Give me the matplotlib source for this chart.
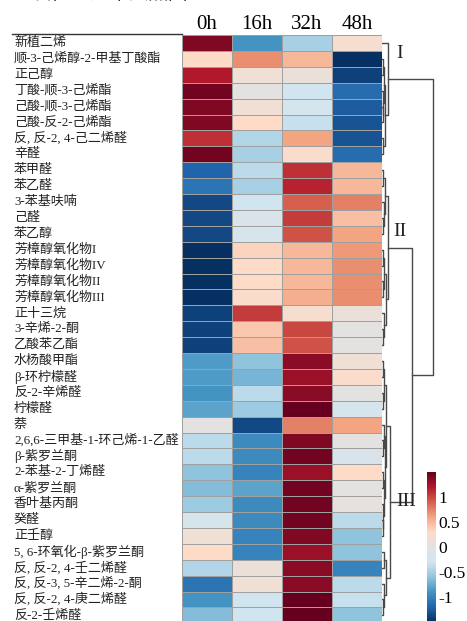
import matplotlib
matplotlib.use("Agg")
import matplotlib.pyplot as plt
from matplotlib.colors import LinearSegmentedColormap
from matplotlib.lines import Line2D
import numpy as np

# 行名（化合物）
compounds = [
    "新植二烯", "顺-3-己烯醇-2-甲基丁酸酯", "正己醇", "丁酸-顺-3-己烯酯",
    "己酸-顺-3-己烯酯", "己酸-反-2-己烯酯", "反, 反-2, 4-己二烯醛", "辛醛",
    "苯甲醛", "苯乙醛", "3-苯基呋喃", "己醛", "苯乙醇",
    "芳樟醇氧化物I", "芳樟醇氧化物IV", "芳樟醇氧化物II", "芳樟醇氧化物III",
    "正十三烷", "3-辛烯-2-酮", "乙酸苯乙酯", "水杨酸甲酯", "β-环柠檬醛",
    "反-2-辛烯醛", "柠檬醛", "萘", "2,6,6-三甲基-1-环己烯-1-乙醛",
    "β-紫罗兰酮", "2-苯基-2-丁烯醛", "α-紫罗兰酮", "香叶基丙酮", "癸醛",
    "正壬醇", "5, 6-环氧化-β-紫罗兰酮", "反, 反-2, 4-壬二烯醛",
    "反, 反-3, 5-辛二烯-2-酮", "反, 反-2, 4-庚二烯醛", "反-2-壬烯醛",
]
times = ["0h", "16h", "32h", "48h"]

# 各时间点的标准化值
v0h = [1.4, 0.3, 1.2, 1.45, 1.4, 1.4, 1.1, 1.45,
       -1.2, -1.1, -1.35, -1.35, -1.35,
       -1.5, -1.5, -1.5, -1.5, -1.4, -1.4, -1.4,
       -0.85, -0.85, -0.9, -0.8, 0.0, -0.4, -0.4, -0.6, -0.65, -0.55, -0.2,
       0.15, 0.3, -0.45, -1.1, -0.9, -0.65]
v16h = [-0.9, 0.7, 0.15, 0.0, 0.15, 0.3, -0.45, -0.5,
        -0.4, -0.5, -0.3, -0.15, -0.2,
        0.35, 0.3, 0.3, 0.25, 1.05, 0.4, 0.45,
        -0.6, -0.7, -0.4, -0.55, -1.35, -0.95, -0.95, -1.0, -0.8, -0.95, -0.95,
        -1.0, -1.0, 0.1, 0.15, -0.3, -0.3]
v32h = [-0.5, 0.5, 0.1, -0.3, -0.25, -0.35, 0.6, 0.25,
        1.1, 1.15, 0.9, 1.05, 0.95,
        0.5, 0.5, 0.5, 0.55, 0.2, 1.0, 0.95,
        1.35, 1.3, 1.35, 1.5, 0.75, 1.4, 1.45, 1.3, 1.45, 1.45, 1.45,
        1.4, 1.3, 1.35, 1.35, 1.5, 1.5]
v48h = [0.2, -1.5, -1.4, -1.15, -1.25, -1.3, -1.3, -1.15,
        0.5, 0.5, 0.75, 0.45, 0.6,
        0.65, 0.7, 0.7, 0.7, 0.1, 0.0, 0.0,
        0.15, 0.25, 0.0, -0.2, 0.6, 0.0, -0.15, 0.3, 0.0, 0.05, -0.4,
        -0.6, -0.6, -1.0, -0.4, -0.35, -0.6]

# 聚类树：(高度, 左, 右)，叶子为行号
tree_I = (0.12, 0, (0.06, (0.03, (0.015, 1, 2), (0.02, 3, (0.01, 4, 5))), (0.02, 6, 7)))
tree_II = (0.12, (0.05, (0.02, 8, 9), (0.03, 10, (0.015, 11, 12))),
           (0.07, (0.03, (0.01, 13, 14), (0.01, 15, 16)), (0.04, 17, (0.02, 18, 19))))
tree_III = (0.16, (0.08, (0.04, (0.02, 20, 21), (0.02, 22, 23)),
                   (0.06, (0.03, 24, (0.02, 25, 26)),
                    (0.04, (0.02, 27, 28), (0.02, 29, (0.01, 30, 31))))),
            (0.07, (0.03, 32, 33), (0.04, 34, (0.02, 35, 36))))
tree = (1.0, tree_I, (0.59, tree_II, tree_III))
cluster_names = ["I", "II", "III"]

data = np.array([v0h, v16h, v32h, v48h]).T
n = len(compounds)

cmap = LinearSegmentedColormap.from_list("rdbu_gray", [
    "#053061", "#2166ac", "#4393c3", "#92c5de", "#d1e5f0", "#e2e2e2",
    "#fddbc7", "#f4a582", "#d6604d", "#b2182b", "#67001f"])

W, H = 467, 621
fig = plt.figure(figsize=(W / 100, H / 100), dpi=100)
serif = ["Liberation Serif", "Noto Sans CJK SC"]
cjk = ["Liberation Serif", "Noto Sans CJK SC"]

top_px, row_h = 35, 15.9
bot_px = top_px + n * row_h
ax = fig.add_axes([182 / W, 1 - bot_px / H, 200 / W, n * row_h / H])
mesh = ax.pcolormesh(data, cmap=cmap, vmin=-1.5, vmax=1.5,
                     edgecolors="#a0a0a0", linewidth=0.7)
ax.set_xlim(0, 4)
ax.set_ylim(n, 0)
ax.set_xticks(np.arange(4) + 0.5)
ax.set_xticklabels(times, family=serif, fontsize=15)
ax.xaxis.tick_top()
ax.tick_params(length=0, pad=1)
ax.set_yticks([])
for s in ax.spines.values():
    s.set_visible(False)

# 行标签左对齐
for i, name in enumerate(compounds):
    y = 1 - (top_px + (i + 0.5) * row_h) / H
    fig.text(14 / W, y, name, family=cjk, fontsize=9.4, ha="left", va="center",
             color="#222222")

fig.add_artist(Line2D([12 / W, 182 / W], [1 - 34 / H, 1 - 34 / H],
                      color="#333333", lw=1))
fig.text(12 / W, 1 + 6 / H, "挥发性成分聚类热图", family=cjk, fontsize=14,
         ha="left", va="center", color="#333333")

# 聚类树
dax = fig.add_axes([382 / W, 1 - bot_px / H, 58 / W, n * row_h / H])
dax.set_xlim(0, 58 / 51)
dax.set_ylim(n, 0)
dax.axis("off")


def draw(node):
    if isinstance(node, int):
        return 0.0, node + 0.5
    h, left, right = node
    hl, yl = draw(left)
    hr, yr = draw(right)
    dax.plot([hl, h, h, hr], [yl, yl, yr, yr], color="#4a4a4a", lw=1)
    return h, (yl + yr) / 2


draw(tree)

for name, (xp, yp) in zip(cluster_names, [(400, 54), (400, 232), (406, 502)]):
    fig.text(xp / W, 1 - yp / H, name, family=serif, fontsize=14,
             ha="center", va="center", color="#222222")

# 色条
cax = fig.add_axes([427 / W, 1 - 622 / H, 9 / W, 150 / H])
cb = fig.colorbar(mesh, cax=cax, ticks=[1, 0.5, 0, -0.5, -1])
cb.outline.set_visible(False)
cb.ax.tick_params(length=0, pad=2)
cb.ax.set_yticklabels(["1", "0.5", "0", "-0.5", "-1"], family=serif, fontsize=12.5)

fig.savefig("out.png", dpi=100)
